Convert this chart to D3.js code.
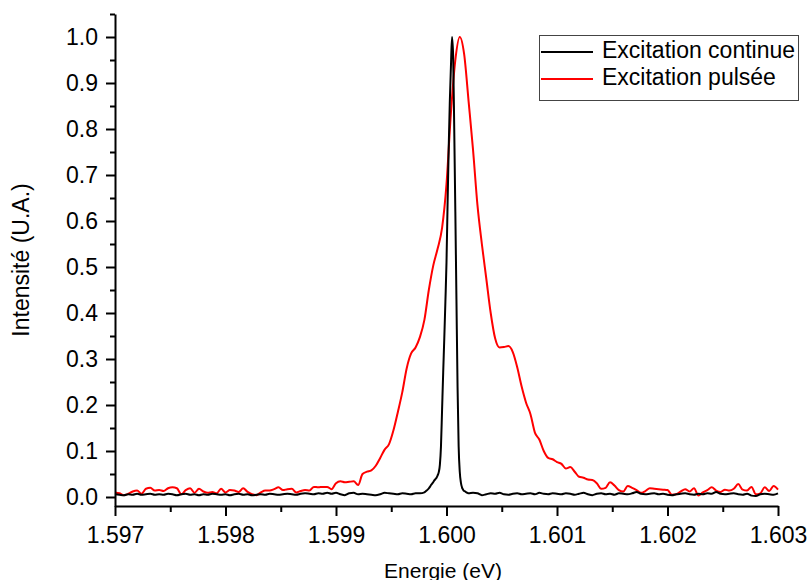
<!DOCTYPE html>
<html>
<head>
<meta charset="utf-8">
<script src="https://cdn.jsdelivr.net/npm/d3@7"></script>
<style>
  body { margin: 0; background: #fff; }
  svg { display: block; font-family: "Liberation Sans", Arial, Helvetica, sans-serif; }
</style>
</head>
<body>
<svg id="chart" width="810" height="580"></svg>
<script>
// ---- Data ----
const energy = [
1.597,1.59704,1.59708,1.59712,1.59716,1.5972,1.59724,1.59728,1.59732,1.59736,
1.5974,1.59744,1.59748,1.59752,1.59756,1.5976,1.59764,1.59768,1.59772,1.59776,
1.5978,1.59784,1.59788,1.59792,1.59796,1.598,1.59804,1.59808,1.59812,1.59816,
1.5982,1.59824,1.59828,1.59832,1.59836,1.5984,1.59844,1.59848,1.59852,1.59856,
1.5986,1.59864,1.59868,1.59872,1.59876,1.5988,1.59884,1.59888,1.59892,1.59896,
1.599,1.59904,1.59908,1.59912,1.59916,1.5992,1.59924,1.59928,1.59932,1.59936,
1.5994,1.59944,1.59948,1.59952,1.59956,1.5996,1.59964,1.59968,1.59972,1.59976,
1.5998,1.59984,1.59988,1.59992,1.59996,1.6,1.60004,1.60008,1.60012,1.60016,
1.6002,1.60024,1.60028,1.60032,1.60036,1.6004,1.60044,1.60048,1.60052,1.60056,
1.6006,1.60064,1.60068,1.60072,1.60076,1.6008,1.60084,1.60088,1.60092,1.60096,
1.601,1.60104,1.60108,1.60112,1.60116,1.6012,1.60124,1.60128,1.60132,1.60136,
1.6014,1.60144,1.60148,1.60152,1.60156,1.6016,1.60164,1.60168,1.60172,1.60176,
1.6018,1.60184,1.60188,1.60192,1.60196,1.602,1.60204,1.60208,1.60212,1.60216,
1.6022,1.60224,1.60228,1.60232,1.60236,1.6024,1.60244,1.60248,1.60252,1.60256,
1.6026,1.60264,1.60268,1.60272,1.60276,1.6028,1.60284,1.60288,1.60292,1.60296,
1.603
];

// Excitation pulsée (red)
const pulsed = [
0.010,0.008,0.004,0.007,0.012,0.014,0.007,0.018,0.020,0.014,
0.015,0.013,0.019,0.021,0.019,0.006,0.015,0.019,0.009,0.018,
0.012,0.009,0.011,0.008,0.018,0.010,0.015,0.014,0.011,0.019,
0.011,0.006,0.004,0.010,0.014,0.014,0.017,0.021,0.015,0.017,
0.018,0.010,0.013,0.015,0.014,0.022,0.021,0.022,0.022,0.017,
0.030,0.034,0.032,0.033,0.034,0.026,0.050,0.055,0.058,0.068,
0.085,0.103,0.115,0.145,0.185,0.228,0.280,0.312,0.325,0.348,
0.385,0.450,0.503,0.540,0.585,0.680,0.835,0.950,1.000,0.962,
0.860,0.755,0.635,0.550,0.475,0.400,0.345,0.325,0.326,0.328,
0.315,0.282,0.240,0.205,0.180,0.140,0.125,0.100,0.085,0.082,
0.076,0.072,0.062,0.065,0.055,0.044,0.042,0.038,0.037,0.030,
0.018,0.020,0.032,0.025,0.015,0.012,0.024,0.020,0.015,0.009,
0.013,0.019,0.018,0.017,0.016,0.015,0.005,0.006,0.012,0.017,
0.012,0.019,0.003,0.010,0.015,0.021,0.014,0.011,0.016,0.014,
0.018,0.028,0.016,0.014,0.022,0.006,0.008,0.021,0.013,0.024,
0.016
];

// Excitation continue (black), coarse grid
const continuous = [
0.006,0.005,0.004,0.006,0.005,0.007,0.005,0.006,0.007,0.005,
0.006,0.005,0.007,0.006,0.004,0.006,0.007,0.005,0.006,0.004,
0.006,0.005,0.007,0.006,0.005,0.006,0.004,0.006,0.007,0.005,
0.006,0.004,0.005,0.006,0.005,0.007,0.006,0.005,0.006,0.007,
0.006,0.005,0.007,0.008,0.007,0.006,0.008,0.007,0.009,0.007,
0.009,0.006,0.004,0.008,0.009,0.006,0.007,0.006,0.005,0.004,
0.006,0.009,0.008,0.007,0.006,0.008,0.007,0.006,0.008,0.008,
0.010,0.019,0.032,0.047,0.190,0.510,0.935,0.620,0.055,0.013,
0.008,0.009,0.008,0.004,0.006,0.008,0.007,0.009,0.006,0.005,
0.007,0.008,0.006,0.007,0.008,0.006,0.009,0.007,0.006,0.008,
0.007,0.006,0.008,0.007,0.005,0.007,0.009,0.006,0.004,0.007,
0.008,0.006,0.007,0.005,0.008,0.007,0.006,0.008,0.011,0.007,
0.006,0.007,0.008,0.006,0.007,0.005,0.004,0.006,0.007,0.008,
0.006,0.005,0.007,0.006,0.008,0.007,0.011,0.007,0.006,0.007,
0.008,0.006,0.005,0.007,0.003,0.002,0.006,0.007,0.006,0.005,
0.008
];

// Excitation continue (black), fine sampling across the narrow peak
const energyPeak = [
1.5998,1.59981,1.59982,1.59983,1.59984,1.59985,1.59986,1.59987,1.59988,1.59989,
1.5999,1.59991,1.59992,1.59993,1.59994,1.59995,1.59996,1.59997,1.59998,1.59999,
1.6,1.60001,1.60002,1.60003,1.60004,1.60005,1.60006,1.60007,1.60008,1.60009,
1.6001,1.60011,1.60012,1.60013,1.60014,1.60015,1.60016,1.60017,1.60018,1.60019,
1.6002
];
const continuousPeak = [
0.010,0.012,0.014,0.016,0.019,0.022,0.026,0.029,0.032,0.036,
0.039,0.042,0.047,0.054,0.070,0.110,0.190,0.270,0.345,0.425,
0.510,0.640,0.760,0.860,0.935,1.000,0.960,0.800,0.620,0.430,
0.240,0.110,0.055,0.032,0.021,0.016,0.013,0.012,0.010,0.009,
0.008
];

const xTicks = [1.597, 1.598, 1.599, 1.600, 1.601, 1.602, 1.603];
const xMinorTicks = [1.5975, 1.5985, 1.5995, 1.6005, 1.6015, 1.6025];
const yTicks = [0, 0.1, 0.2, 0.3, 0.4, 0.5, 0.6, 0.7, 0.8, 0.9, 1.0];
const yMinorTicks = [0.05, 0.15, 0.25, 0.35, 0.45, 0.55, 0.65, 0.75, 0.85, 0.95, 1.05];
const seriesNames = ["Excitation continue", "Excitation pulsée"];
const seriesColors = ["#000000", "#ff0000"];

// ---- Build series ----
const pulsedData = energy.map((e, i) => [e, pulsed[i]]);
const contData = energy.map((e, i) => [e, continuous[i]])
  .filter(d => d[0] < 1.59979 || d[0] > 1.60021)
  .concat(energyPeak.map((e, i) => [e, continuousPeak[i]]))
  .sort((a, b) => a[0] - b[0]);

// ---- Chart ----
const FS = 23;
const svg = d3.select("#chart");
const x = d3.scaleLinear().domain([1.597, 1.603]).range([115, 778]);
const y = d3.scaleLinear().domain([-0.02, 1.05]).range([506.2, 14]);

const line = d3.line().x(d => x(d[0])).y(d => y(d[1])).curve(d3.curveMonotoneX);

svg.append("path").datum(pulsedData)
  .attr("fill", "none").attr("stroke", seriesColors[1]).attr("stroke-width", 2)
  .attr("stroke-linejoin", "round").attr("d", line);
svg.append("path").datum(contData)
  .attr("fill", "none").attr("stroke", seriesColors[0]).attr("stroke-width", 2)
  .attr("stroke-linejoin", "round").attr("d", line);

// Axes
const gx = svg.append("g").attr("transform", "translate(0,506)");
gx.call(d3.axisBottom(x).tickValues(xTicks).tickFormat(d3.format(".3f")).tickSize(10).tickSizeOuter(0).tickPadding(11));
const gxm = svg.append("g").attr("transform", "translate(0,506)");
gxm.call(d3.axisBottom(x).tickValues(xMinorTicks).tickFormat("").tickSize(6).tickSizeOuter(0));
gxm.select(".domain").remove();

const gy = svg.append("g").attr("transform", "translate(115,0)");
gy.call(d3.axisLeft(y).tickValues(yTicks).tickFormat(d3.format(".1f")).tickSize(9).tickSizeOuter(0).tickPadding(8));
const gym = svg.append("g").attr("transform", "translate(115,0)");
gym.call(d3.axisLeft(y).tickValues(yMinorTicks).tickFormat("").tickSize(5).tickSizeOuter(0));
gym.select(".domain").remove();

svg.selectAll(".domain").attr("stroke", "#000").attr("stroke-width", 2);
svg.selectAll(".tick line").attr("stroke", "#000").attr("stroke-width", 2);
svg.selectAll(".tick text")
  .attr("font-family", "Liberation Sans, Arial, sans-serif")
  .attr("font-size", FS).attr("fill", "#000");

// Axis titles
svg.append("text")
  .attr("x", 443).attr("y", 578)
  .attr("text-anchor", "middle")
  .attr("font-size", 21).attr("fill", "#000")
  .text("Energie (eV)");
svg.append("text")
  .attr("transform", "translate(29,260) rotate(-90)")
  .attr("text-anchor", "middle")
  .attr("font-size", FS).attr("fill", "#000")
  .text("Intensité (U.A.)");

// Legend
const legend = svg.append("g");
legend.append("rect")
  .attr("x", 539.5).attr("y", 35.5).attr("width", 259).attr("height", 65)
  .attr("fill", "#fff").attr("stroke", "#444").attr("stroke-width", 1);
seriesNames.forEach((name, i) => {
  const yy = 52 + i * 27;
  legend.append("line")
    .attr("x1", 541).attr("x2", 593).attr("y1", yy).attr("y2", yy)
    .attr("stroke", seriesColors[i]).attr("stroke-width", 2);
  legend.append("text")
    .attr("x", 602).attr("y", yy + 6)
    .attr("font-size", FS).attr("fill", "#000")
    .text(name);
});
</script>
</body>
</html>
